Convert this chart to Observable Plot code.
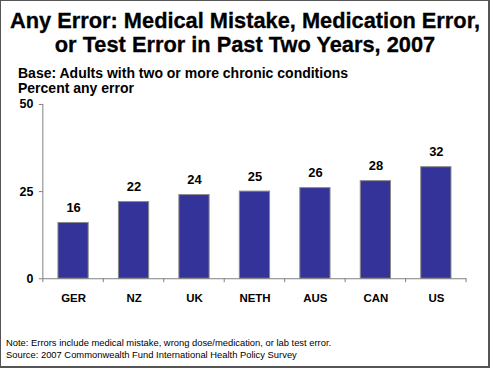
<!DOCTYPE html>
<html>
<head>
<meta charset="utf-8">
<script src="https://cdn.jsdelivr.net/npm/d3@7"></script>
<script src="https://cdn.jsdelivr.net/npm/@observablehq/plot@0.6"></script>
<style>
  html, body { margin: 0; padding: 0; background: #fff; }
  #frame {
    position: relative; width: 490px; height: 368px; box-sizing: border-box;
    border-style: solid; border-color: #555; border-width: 1px 2px 2px 1px;
    font-family: "Liberation Sans", Arial, sans-serif; color: #000; overflow: hidden;
  }
  #title {
    position: absolute; left: 0; top: 8px; width: 488px; text-align: center;
    font-weight: bold; font-size: 21.8px; line-height: 24px; -webkit-text-stroke: 0.3px #000;
  }
  #sub {
    position: absolute; left: 17px; top: 65px; font-weight: bold; font-size: 14px; line-height: 15px;
  }
  #note {
    position: absolute; left: 5px; top: 336px; font-size: 9.4px; line-height: 12px;
  }
  #chart { position: absolute; left: -1px; top: 94px; }
</style>
</head>
<body>
<div id="frame">
  <div id="title">Any Error: Medical Mistake, Medication Error,<br>or Test Error in Past Two Years, 2007</div>
  <div id="sub">Base: Adults with two or more chronic conditions<br>Percent any error</div>
  <div id="chart"></div>
  <div id="note">Note: Errors include medical mistake, wrong dose/medication, or lab test error.<br>Source: 2007 Commonwealth Fund International Health Policy Survey</div>
</div>
<script>
const countries = ["GER", "NZ", "UK", "NETH", "AUS", "CAN", "US"];
const anyError = [16, 22, 24, 25, 26, 28, 32];
const yTicks = [0, 25, 50];

const data = countries.map((c, i) => ({country: c, value: anyError[i]}));

const chart = Plot.plot({
  width: 490,
  height: 216,
  marginTop: 9,
  marginBottom: 32,
  marginLeft: 43,
  marginRight: 22,
  style: {fontFamily: "'Liberation Sans', Arial, sans-serif", background: "transparent", overflow: "visible"},
  x: {domain: countries, paddingInner: 0.5, paddingOuter: 0.25, round: false, label: null},
  y: {domain: [0, 50], label: null},
  marks: [
    Plot.barY(data, {x: "country", y: "value", fill: "#333399", stroke: "#8a8a8a", strokeWidth: 1}),
    Plot.text(data, {x: "country", y: "value", text: d => String(d.value), dy: -15, fontSize: 13, fontWeight: "bold", fill: "#000"}),
    Plot.axisY({ticks: yTicks, tickSize: 4, tickPadding: 6, fontSize: 12.5, fontWeight: "bold", stroke: "#808080", color: "#000", label: null}),
    Plot.axisX({tickSize: 0, tickPadding: 15, fontSize: 11.5, fontWeight: "bold", label: null}),
    Plot.ruleY([0], {stroke: "#808080"})
  ]
});

// left axis line & band-boundary ticks on the x axis, from Plot's own scales
const svg = d3.select(chart);
const xs = chart.scale("x");
const ys = chart.scale("y");
const gap = xs.step - xs.bandwidth;
const y0 = ys.apply(0);
const bounds = countries.map(c => xs.apply(c) - gap / 2)
  .concat([xs.apply(countries[countries.length - 1]) + xs.bandwidth + gap / 2]);
svg.append("g").selectAll("line").data(bounds).join("line")
  .attr("x1", d => d).attr("x2", d => d)
  .attr("y1", y0).attr("y2", y0 + 4)
  .attr("stroke", "#808080");
svg.append("line")
  .attr("x1", bounds[0]).attr("x2", bounds[0])
  .attr("y1", ys.apply(50)).attr("y2", y0)
  .attr("stroke", "#808080");

document.getElementById("chart").appendChild(chart);
</script>
</body>
</html>
